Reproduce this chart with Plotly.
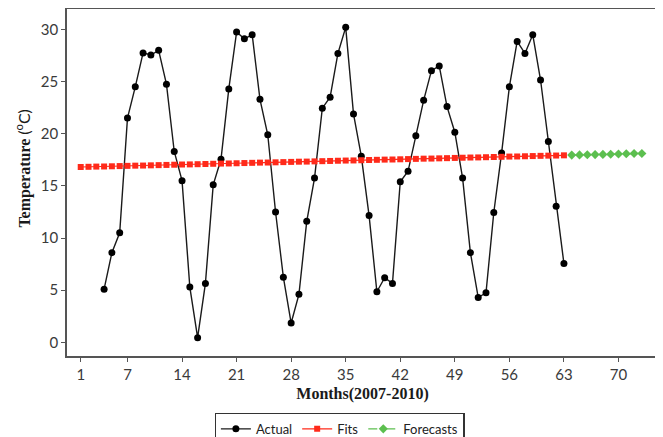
import plotly.graph_objects as go

# ---- data ----
actual_t = list(range(4, 64))
actual_temp = [5.1, 8.6, 10.5, 21.5, 24.5, 27.75, 27.55, 28.0, 24.75, 18.3,
               15.5, 5.3, 0.45, 5.65, 15.1, 17.55, 24.3, 29.75, 29.1, 29.5,
               23.3, 19.9, 12.5, 6.25, 1.85, 4.6, 11.6, 15.75, 22.45, 23.5,
               27.7, 30.2, 21.9, 17.85, 12.15, 4.85, 6.2, 5.65, 15.4, 16.4,
               19.8, 23.2, 26.05, 26.5, 22.6, 20.15, 15.75, 8.6, 4.3, 4.75,
               12.45, 18.15, 24.5, 28.85, 27.7, 29.5, 25.15, 19.25, 13.05, 7.55]

fits_t = list(range(1, 64))
fits_temp = [16.81, 16.83, 16.85, 16.86, 16.88, 16.90, 16.92, 16.94, 16.95, 16.97,
             16.99, 17.01, 17.03, 17.05, 17.06, 17.08, 17.10, 17.12, 17.14, 17.15,
             17.17, 17.19, 17.21, 17.23, 17.24, 17.26, 17.28, 17.30, 17.32, 17.33,
             17.35, 17.37, 17.39, 17.41, 17.43, 17.44, 17.46, 17.48, 17.50, 17.52,
             17.53, 17.55, 17.57, 17.59, 17.61, 17.62, 17.64, 17.66, 17.68, 17.70,
             17.72, 17.73, 17.75, 17.77, 17.79, 17.81, 17.82, 17.84, 17.86, 17.88,
             17.90, 17.91, 17.93]

forecast_t = list(range(64, 74))
forecast_temp = [17.95, 17.97, 17.99, 18.00, 18.02, 18.04, 18.06, 18.08, 18.10, 18.11]

x_ticks = [1, 7, 14, 21, 28, 35, 42, 49, 56, 63, 70]
y_ticks = [0, 5, 10, 15, 20, 25, 30]
equation = "Yt = 16.7917 + 0.0181078*t"

# ---- figure ----
fig = go.Figure()
fig.add_trace(go.Scatter(
    x=actual_t, y=actual_temp, name="Actual", mode="lines+markers",
    line=dict(color="#1a1a1a", width=1.4),
    marker=dict(symbol="circle", size=7, color="#000000")))
fig.add_trace(go.Scatter(
    x=fits_t, y=fits_temp, name="Fits", mode="lines+markers",
    line=dict(color="#ff2a1a", width=1.2),
    marker=dict(symbol="square", size=6, color="#ff2a1a")))
fig.add_trace(go.Scatter(
    x=forecast_t, y=forecast_temp, name="Forecasts", mode="lines+markers",
    line=dict(color="#5cbf4f", width=1.2, dash="dash"),
    marker=dict(symbol="diamond", size=7, color="#5cbf4f")))

fig.add_annotation(
    x=421, y=0.75, xref="x", yref="y", text=equation, showarrow=False,
    font=dict(family="Lato", size=14, color="#333333"))

fig.add_annotation(
    x=-0.0745, y=0.54, xref="paper", yref="paper", textangle=-90,
    text="<b>Temperature</b> <span style='font-family:Lato;font-weight:normal'>(<sup>o</sup>C)</span>",
    showarrow=False, xanchor="center", yanchor="middle",
    font=dict(family="Liberation Serif", size=16, color="#1a1a1a"))

axis_common = dict(
    showline=True, mirror=True, linecolor="#555555", linewidth=1.5,
    ticks="outside", ticklen=4, tickwidth=1.2, tickcolor="#555555",
    showgrid=False, zeroline=False, automargin=False,
    tickfont=dict(family="Lato", size=15, color="#3a3a3a"))

# the page body adds an 8px offset; the figure is sized to compensate
fig.update_layout(
    width=655, height=429,
    margin=dict(l=59, r=5, t=1, b=81, autoexpand=False),
    paper_bgcolor="white", plot_bgcolor="white",
    xaxis=dict(range=[-0.76, 75.07], tickvals=x_ticks,
               title=dict(text="<b>Months(2007-2010)</b>", standoff=6,
                          font=dict(family="Liberation Serif", size=16, color="#1a1a1a")),
               **axis_common),
    yaxis=dict(range=[-1.31, 31.96], tickvals=y_ticks, **axis_common),
    showlegend=True,
    legend=dict(orientation="h", xref="container", yref="container",
                x=0.5064, xanchor="center", y=0.0566, yanchor="top",
                bordercolor="#333333", borderwidth=1.2, bgcolor="white",
                font=dict(family="Lato", size=13, color="#222222"),
                itemwidth=30, tracegroupgap=0),
)

fig.write_html("out.html")
